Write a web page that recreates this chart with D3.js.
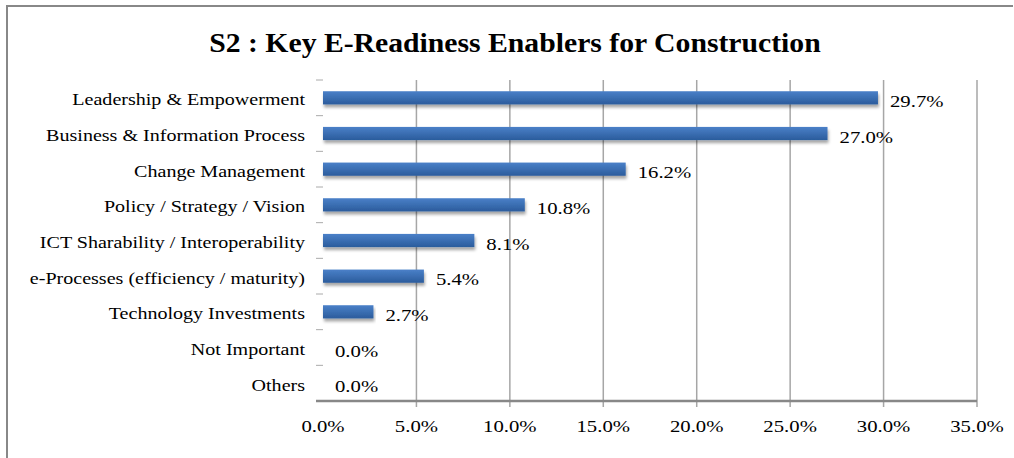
<!DOCTYPE html>
<html>
<head>
<meta charset="utf-8">
<script src="https://cdn.jsdelivr.net/npm/d3@7"></script>
<style>
  body { margin: 0; background: #fff; }
</style>
</head>
<body>
<div class="container"></div>
<script>
// data
var categories = [
  "Leadership & Empowerment",
  "Business & Information Process",
  "Change Management",
  "Policy / Strategy / Vision",
  "ICT Sharability / Interoperability",
  "e-Processes (efficiency / maturity)",
  "Technology Investments",
  "Not Important",
  "Others"
];
var values = [29.7, 27.0, 16.2, 10.8, 8.1, 5.4, 2.7, 0.0, 0.0];
var xTicks = [0, 5, 10, 15, 20, 25, 30, 35];
var title = "S2 : Key E-Readiness Enablers for Construction";

var data = categories.map(function(c, i) { return {name: c, value: values[i]}; });

var W = 1014, H = 458;
var margin = {top: 80, right: 37, bottom: 57, left: 323},
    width = W - margin.left - margin.right,
    height = H - margin.top - margin.bottom;

var serif = '"Liberation Serif", "Times New Roman", Times, serif';
var stretch = 1.22;   // the original text is drawn wide

var svg = d3.select('.container')
  .append('svg')
  .attr('width', W)
  .attr('height', H);

/* ===== defs: bar gradient + shadow ===== */
var defs = svg.append('defs');
var grad = defs.append('linearGradient')
  .attr('id', 'barGrad')
  .attr('x1', 0).attr('y1', 0).attr('x2', 0).attr('y2', 1);
grad.append('stop').attr('offset', '0%').attr('stop-color', '#4a80c8');
grad.append('stop').attr('offset', '100%').attr('stop-color', '#2b5c9c');

var shadow = defs.append('filter')
  .attr('id', 'barShadow')
  .attr('x', '-5%').attr('y', '-50%')
  .attr('width', '110%').attr('height', '250%');
shadow.append('feDropShadow')
  .attr('dx', 1).attr('dy', 3)
  .attr('stdDeviation', 1.8)
  .attr('flood-color', '#000')
  .attr('flood-opacity', 0.35);

/* ===== frame (only top and left edges show) ===== */
svg.append('line')
  .attr('x1', 7).attr('x2', 1013).attr('y1', 6).attr('y2', 6)
  .attr('stroke', '#888').attr('stroke-width', 2);
svg.append('line')
  .attr('x1', 7).attr('x2', 7).attr('y1', 5).attr('y2', H)
  .attr('stroke', '#888').attr('stroke-width', 2);

/* ===== title ===== */
svg.append('text')
  .attr('transform', 'translate(515,52) scale(1.1,1)')
  .attr('text-anchor', 'middle')
  .style('font-family', serif)
  .style('font-size', '27px')
  .style('font-weight', 'bold')
  .text(title);

var g = svg.append('g')
  .attr('transform', 'translate(' + margin.left + ',' + margin.top + ')');

var xScale = d3.scaleLinear().domain([0, 35]).range([0, width]);
var yScale = d3.scaleBand()
  .domain(categories)
  .range([0, height])
  .paddingInner(0.63)
  .paddingOuter(0.315);

function place(x, y, sx) {
  return 'translate(' + x + ',' + y + ') scale(' + (sx || stretch) + ',1)';
}

/* ===== gridlines ===== */
g.selectAll('.grid')
  .data(xTicks.filter(function(t) { return t > 0; }))
  .enter()
  .append('line')
  .attr('class', 'grid')
  .attr('x1', function(d) { return xScale(d); })
  .attr('x2', function(d) { return xScale(d); })
  .attr('y1', 0)
  .attr('y2', height + 6)
  .attr('stroke', '#a6a6a6')
  .attr('stroke-width', 1.5);

/* ===== category ticks (band edges, left of plot) ===== */
var bandStep = yScale.step();
g.selectAll('.ytick')
  .data(d3.range(categories.length + 1))
  .enter()
  .append('line')
  .attr('x1', -7).attr('x2', 0)
  .attr('y1', function(i) { return i * bandStep; })
  .attr('y2', function(i) { return i * bandStep; })
  .attr('stroke', '#aaa')
  .attr('stroke-width', 1);

/* ===== bars ===== */
g.selectAll('.bar')
  .data(data)
  .enter()
  .append('rect')
  .attr('class', 'bar')
  .attr('x', 0)
  .attr('y', function(d) { return yScale(d.name); })
  .attr('height', yScale.bandwidth())
  .attr('width', function(d) { return xScale(d.value); })
  .attr('fill', 'url(#barGrad)')
  .attr('filter', 'url(#barShadow)');

/* ===== x axis ===== */
g.append('line')
  .attr('x1', -7).attr('x2', width)
  .attr('y1', height).attr('y2', height)
  .attr('stroke', '#888').attr('stroke-width', 2.5);

g.selectAll('.xlab')
  .data(xTicks)
  .enter()
  .append('text')
  .attr('transform', function(d) { return place(xScale(d), height + 31); })
  .attr('text-anchor', 'middle')
  .style('font-family', serif)
  .style('font-size', '17px')
  .text(function(d) { return d.toFixed(1) + '%'; });

/* ===== labels ===== */
g.selectAll('.cat')
  .data(data)
  .enter()
  .append('text')
  .attr('transform', function(d) {
    return place(-18, yScale(d.name) + yScale.bandwidth() / 2 + 7.5, 1.18);
  })
  .attr('text-anchor', 'end')
  .style('font-family', serif)
  .style('font-size', '17px')
  .text(function(d) { return d.name; });

g.selectAll('.val')
  .data(data)
  .enter()
  .append('text')
  .attr('transform', function(d) {
    return place(xScale(d.value) + 12, yScale(d.name) + yScale.bandwidth() / 2 + 9);
  })
  .style('font-family', serif)
  .style('font-size', '17px')
  .text(function(d) { return d.value.toFixed(1) + '%'; });
</script>
</body>
</html>
